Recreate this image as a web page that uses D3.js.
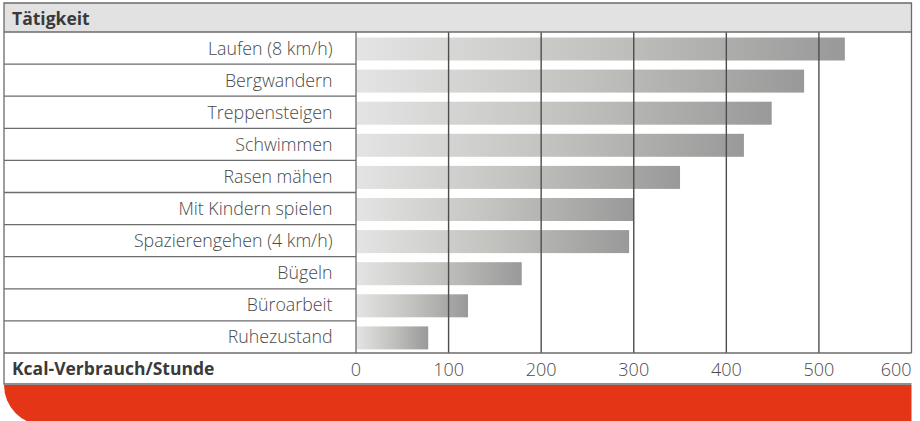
<!DOCTYPE html>
<html><head><meta charset="utf-8">
<script src="https://cdn.jsdelivr.net/npm/d3@7"></script>
<style>
html,body{margin:0;padding:0;background:#fff;overflow:hidden}
svg{display:block}
text{font-family:"Open Sans","Noto Sans",sans-serif}
</style></head>
<body>
<svg id="c" width="920" height="421"></svg>
<script>
const categories = ["Laufen (8 km/h)","Bergwandern","Treppensteigen","Schwimmen","Rasen mähen","Mit Kindern spielen","Spazierengehen (4 km/h)","Bügeln","Büroarbeit","Ruhezustand"];
const values = [528, 484, 449, 419, 350, 300, 295, 179, 121, 78];
const tickValues = [0, 100, 200, 300, 400, 500, 600];
const headerTitle = "Tätigkeit";
const axisTitle = "Kcal-Verbrauch/Stunde";

const svg = d3.select("#c");
const L = 4, R = 911.5, T = 3, headB = 32, plotB = 353, axB = 384, colX = 356;
const x = d3.scaleLinear().domain([0, 600]).range([colX, R]);
const y = d3.scaleBand().domain(categories).range([headB, plotB]).padding(0);

const defs = svg.append("defs");
const g = defs.append("linearGradient").attr("id","bg").attr("x1","0").attr("x2","1").attr("y1","0").attr("y2","0");
g.append("stop").attr("offset","0").attr("stop-color","#e4e4e4");
g.append("stop").attr("offset","0.5").attr("stop-color","#c2c2bf");
g.append("stop").attr("offset","1").attr("stop-color","#999999");

// red band
svg.append("path")
  .attr("d", `M${L},${axB+1} H${R} V425 H${L+40} A40,40 0 0 1 ${L},${axB+1} Z`)
  .attr("fill","#e43516");

// header background
svg.append("rect").attr("x",L).attr("y",T).attr("width",R-L).attr("height",headB-T).attr("fill","#e2e2e2");

// bars
svg.append("g").selectAll("rect").data(categories).join("rect")
  .attr("x", x(0))
  .attr("y", d => y(d) + 5.5)
  .attr("width", (d,i) => x(values[i]) - x(0))
  .attr("height", 23)
  .attr("fill","url(#bg)");

const lineCol = "#6b6b6b";
// grid lines (vertical)
svg.append("g").selectAll("line").data(tickValues.slice(1, -1)).join("line")
  .attr("x1", d => x(d)).attr("x2", d => x(d))
  .attr("y1", headB).attr("y2", plotB)
  .attr("stroke","#4d4d4d").attr("stroke-width",1.4);

// row separators in label column
svg.append("g").selectAll("line").data(categories.slice(1)).join("line")
  .attr("x1", L).attr("x2", colX)
  .attr("y1", d => y(d)).attr("y2", d => y(d))
  .attr("stroke", lineCol).attr("stroke-width",1.3);

// frame lines
const fr = svg.append("g").attr("stroke", lineCol).attr("stroke-width",1.3).attr("fill","none");
fr.append("path").attr("d", `M${R},${plotB} V${T} H${L} V${axB} H${R}`);
fr.append("line").attr("x1",L).attr("x2",R).attr("y1",headB).attr("y2",headB);
fr.append("line").attr("x1",L).attr("x2",R).attr("y1",plotB).attr("y2",plotB);
fr.append("line").attr("x1",colX).attr("x2",colX).attr("y1",headB).attr("y2",plotB);

// labels
svg.append("g").selectAll("text").data(categories).join("text")
  .attr("x", 332.5).attr("y", d => y(d) + y.bandwidth()/2 + 6.5)
  .attr("text-anchor","end").attr("font-size",17.8).attr("font-weight",300).attr("fill","#4a4a4a")
  .text(d => d);

svg.append("text").attr("x",12).attr("y",24.5).attr("font-size",17.5).attr("font-weight",700).attr("fill","#3a3a3a").text(headerTitle);
svg.append("text").attr("x",12).attr("y",375).attr("font-size",17.5).attr("font-weight",700).attr("fill","#3a3a3a").text(axisTitle);

// tick labels
svg.append("g").selectAll("text").data(tickValues).join("text")
  .attr("x", (d,i) => i === tickValues.length - 1 ? R : x(d))
  .attr("y", 376)
  .attr("text-anchor", (d,i) => i === tickValues.length - 1 ? "end" : "middle")
  .attr("font-size",18).attr("font-weight",300).attr("fill","#4a4a4a")
  .text(d => d);
</script>
</body></html>
